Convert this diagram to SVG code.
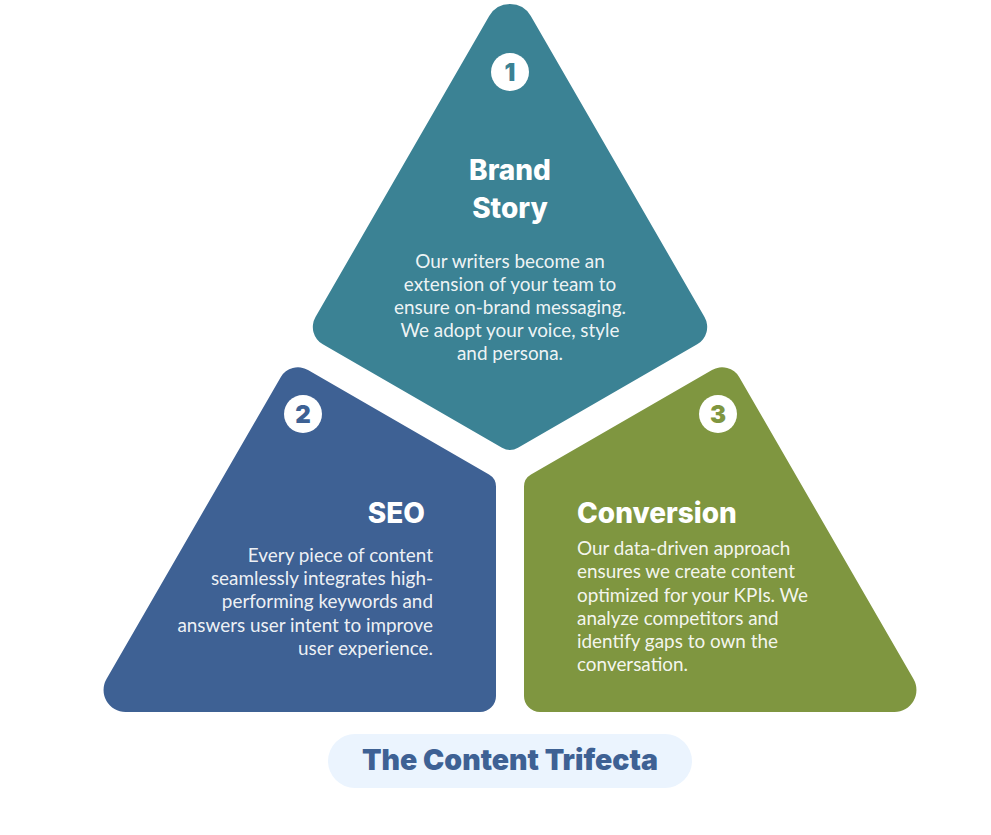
<svg xmlns="http://www.w3.org/2000/svg" width="991" height="835" viewBox="0 0 991 835">
<style>
.title{font-family:Inter,Lato,"Noto Sans",sans-serif;font-weight:800;font-size:28px;fill:#ffffff}
.body{font-family:Lato,"Noto Sans",sans-serif;font-weight:400;font-size:18.9px;fill:#ffffff;fill-opacity:0.93}
.num{font-family:Inter,Lato,"Noto Sans",sans-serif;font-weight:900;font-size:24px;text-anchor:middle}
.badge{fill:#ffffff}
</style>
<rect width="991" height="835" fill="#ffffff"/>
<g id="brand-story">
<path fill="#3B8294" d="M 530.8 16 L 704.5 317 A 20 20 0 0 1 697.2 344.3 L 518 447.8 A 16 16 0 0 1 502 447.8 L 322.8 344.3 A 20 20 0 0 1 315.5 317 L 489.2 16 A 24 24 0 0 1 530.8 16 Z"/>
<circle class="badge" cx="510" cy="72" r="19"/>
<text class="num" x="510" y="81" fill="#3B8294">1</text>
<text class="title" x="510" y="180" text-anchor="middle">Brand</text>
<text class="title" x="510" y="218" text-anchor="middle">Story</text>
<text class="body" text-anchor="middle"><tspan x="510" y="268">Our writers become an</tspan><tspan x="510" y="291">extension of your team to</tspan><tspan x="510" y="314">ensure on-brand messaging.</tspan><tspan x="510" y="337">We adopt your voice, style</tspan><tspan x="510" y="360">and persona.</tspan></text>
</g>
<g id="seo">
<path fill="#3E6194" d="M 308 369.9 L 489 474.4 A 14 14 0 0 1 496 486.5 L 496 696 A 16 16 0 0 1 480 712 L 125.5 712 A 22 22 0 0 1 106.5 679 L 280.7 377.2 A 20 20 0 0 1 308 369.9 Z"/>
<circle class="badge" cx="303" cy="414" r="19"/>
<text class="num" x="303" y="423" fill="#3E6194">2</text>
<text class="title" x="425" y="523" text-anchor="end">SEO</text>
<text class="body" text-anchor="end"><tspan x="433" y="562">Every piece of content</tspan><tspan x="433" y="585">seamlessly integrates high-</tspan><tspan x="433" y="608">performing keywords and</tspan><tspan x="433" y="632">answers user intent to improve</tspan><tspan x="433" y="655">user experience.</tspan></text>
</g>
<g id="conversion">
<path fill="#7F9640" d="M 712 369.9 L 531 474.4 A 14 14 0 0 0 524 486.5 L 524 696 A 16 16 0 0 0 540 712 L 894.5 712 A 22 22 0 0 0 913.5 679 L 739.3 377.2 A 20 20 0 0 0 712 369.9 Z"/>
<circle class="badge" cx="718" cy="414" r="19"/>
<text class="num" x="718" y="423" fill="#7F9640">3</text>
<text class="title" x="577" y="523">Conversion</text>
<text class="body"><tspan x="577" y="555">Our data-driven approach</tspan><tspan x="577" y="578">ensures we create content</tspan><tspan x="577" y="602">optimized for your KPIs. We</tspan><tspan x="577" y="625">analyze competitors and</tspan><tspan x="577" y="648">identify gaps to own the</tspan><tspan x="577" y="671">conversation.</tspan></text>
</g>
<g id="label">
<rect x="328" y="734" width="364" height="54" rx="27" fill="#EBF4FE"/>
<text x="510" y="770" text-anchor="middle" style="font-family:Inter,Lato,'Noto Sans',sans-serif;font-weight:900;font-size:28.5px;fill:#3E6194">The Content Trifecta</text>
</g>
<g id="connectors"/>
</svg>
